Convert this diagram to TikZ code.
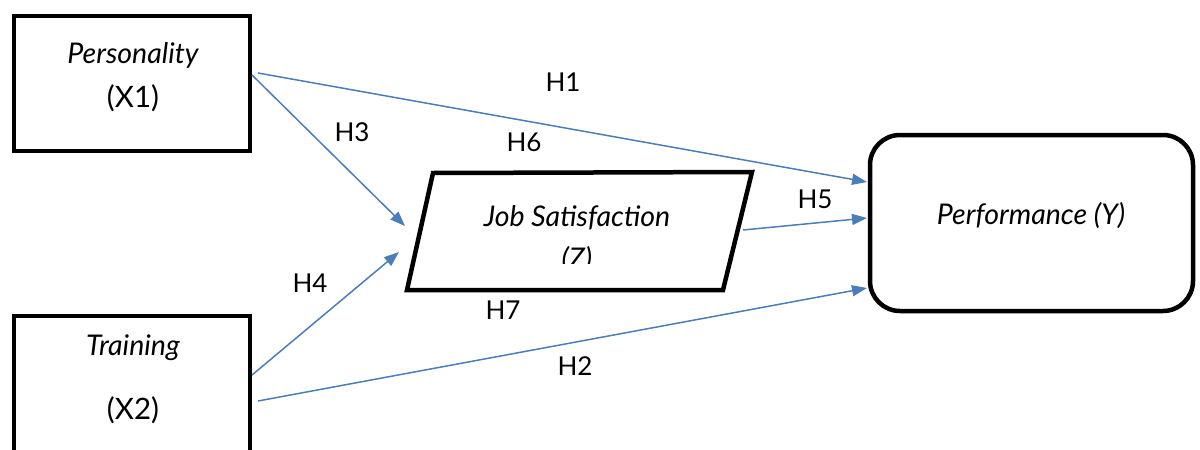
\documentclass[tikz,border=0pt]{standalone}
\usepackage{fontspec}
\setmainfont{Lato}
\usetikzlibrary{arrows.meta}
\definecolor{arrowblue}{HTML}{4A7EBB}
\tikzset{
  box/.style={draw=black, line width=4.5pt, minimum width=#1, inner sep=0pt},
  conn/.style={draw=arrowblue, line width=1.5pt, -{Triangle[length=15pt,width=11pt]}},
  hlabel/.style={font=\fontsize{26}{31}\selectfont, inner sep=0pt},
  itxt/.style={font=\fontsize{28.5}{33}\selectfont\itshape, inner sep=0pt},
  ntxt/.style={font=\fontsize{29.5}{34}\selectfont, inner sep=0pt}
}
\begin{document}
\begin{tikzpicture}[x=1pt,y=-1pt]
\useasboundingbox (0,0) rectangle (1200,450);
% boxes
\node[box=236pt, minimum height=135pt] (pers) at (132,83.5) {};
\node[box=236pt, minimum height=160pt] (train) at (132,396) {};
\draw[line width=4.5pt, line join=miter] (433,173) coordinate (zTL) -- (752,172) coordinate (zTR) -- (723,290) coordinate (zBR) -- (407,290) coordinate (zBL) -- cycle;
\node[draw=black, line width=4.5pt, rounded corners=30pt, minimum width=323pt, minimum height=176pt, inner sep=0pt] (perf) at (1031.5,223) {};
% texts
\node[itxt] (t1) at (133,55) {Personality};
\node[ntxt] (t2) at (133,98) {(X1)};
\node[itxt] (t3) at (133,348) {Training};
\node[ntxt] (t4) at (133,410) {(X2)};
\node[itxt] (t5) at (577,218) {Job Satisfaction};
\begin{scope}
\clip (540,240) rectangle (620,263);
\node[itxt] (t6) at (577,260) {(Z)};
\end{scope}
\node[itxt] (t7) at (1031,216) {Performance (Y)};
% connector end points
\coordinate (a1) at (258,73);
\coordinate (b1) at (867,182);
\coordinate (a3) at (252,75);
\coordinate (b3) at (405,226);
\coordinate (a4) at (252,375);
\coordinate (b4) at (399,252);
\coordinate (a2) at (258,401);
\coordinate (b2) at (867,288);
\coordinate (a5) at (743,230);
\coordinate (b5) at (867,218);
\draw[conn] (a1) -- (b1);
\draw[conn] (a3) -- (b3);
\draw[conn] (a4) -- (b4);
\draw[conn] (a2) -- (b2);
\draw[conn] (a5) -- (b5);
% labels
\node[hlabel] (h1) at (563,82) {H1};
\node[hlabel] (h3) at (352,132) {H3};
\node[hlabel] (h6) at (524,142) {H6};
\node[hlabel] (h5) at (815,199) {H5};
\node[hlabel] (h4) at (310,283) {H4};
\node[hlabel] (h7) at (503,310) {H7};
\node[hlabel] (h2) at (575,366) {H2};
\end{tikzpicture}
\end{document}
